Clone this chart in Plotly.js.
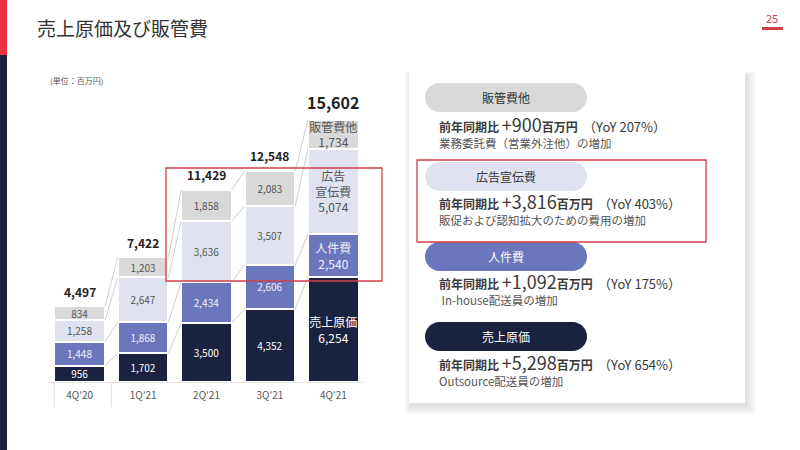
<!DOCTYPE html>
<html><head><meta charset="utf-8">
<script src="https://cdn.plot.ly/plotly-3.0.1.min.js"></script>
<style>html,body{margin:0;padding:0;background:#fff;}#chart{width:800px;height:450px;}</style>
</head><body><div id="chart"></div>
<script>
// ---------- data ----------
const quarters = ["4Q'20", "1Q'21", "2Q'21", "3Q'21", "4Q'21"];
const costOfSales = [956, 1702, 3500, 4352, 6254];
const personnel = [1448, 1868, 2434, 2606, 2540];
const advertising = [1258, 2647, 3636, 3507, 5074];
const otherSGA = [834, 1203, 1858, 2083, 1734];
const totals = [4497, 7422, 11429, 12548, 15602];
const lastBarNames = ["売上原価", "人件費", "広告<br>宣伝費", "販管費他"];
const panelTitles = ["販管費他", "広告宣伝費", "人件費", "売上原価"];
const panelDeltas = ["+900", "+3,816", "+1,092", "+5,298"];
const panelYoY = ["207%", "403%", "175%", "654%"];
const panelNotes = ["業務委託費（営業外注他）の増加", "販促および認知拡大のための費用の増加", " In-house配送員の増加", "Outsource配送員の増加"];

// ---------- styles ----------
const FONT = '"Noto Sans CJK JP", "Noto Sans", sans-serif';
const NAVY = '#1b2240', PURPLE = '#6b77bd', LAV = '#e0e3ef', GRAY = '#d9d9d9', RED = '#cf3f4a';
const segColors = [NAVY, PURPLE, LAV, GRAY];
const segText = ['#ffffff', '#eef0fa', '#555555', '#555555'];
const series = [costOfSales, personnel, advertising, otherSGA];
const idx = quarters.map((_, i) => i);
const fmt = v => v.toLocaleString('en-US');

const traces = series.map((vals, s) => ({
  type: 'bar', x: idx, y: vals, width: 0.8,
  marker: {color: segColors[s], line: {color: '#ffffff', width: 2}},
  text: vals.map((v, i) => i === vals.length - 1 ? lastBarNames[s] + '<br>' + fmt(v) : fmt(v)),
  textposition: 'inside', insidetextanchor: 'middle', textangle: 0, constraintext: 'none',
  textfont: {family: FONT, color: segText[s], size: vals.map((v, i) => i === vals.length - 1 ? 12 : 10)},
  hoverinfo: 'skip', showlegend: false
}));

// connector lines between stack boundaries
const cum = idx.map(i => {
  let c = 0; return series.map(sv => (c += sv[i]));
});
const cx = [], cy = [];
for (let i = 0; i < idx.length - 1; i++) {
  for (let k = 0; k < series.length; k++) {
    cx.push(i + 0.4, i + 0.6, null);
    cy.push(cum[i][k], cum[i + 1][k], null);
  }
}
traces.push({type: 'scatter', mode: 'lines', x: cx, y: cy, line: {color: '#cfcfcf', width: 1}, hoverinfo: 'skip', showlegend: false});

// ---------- helpers ----------
const W = 800, H = 450;
const X = p => p / W, Y = p => 1 - p / H;
function rectPx(x0, y0, x1, y1, fill, line, extra) {
  return Object.assign({type: 'rect', xref: 'paper', yref: 'paper', x0: X(x0), x1: X(x1), y0: Y(y1), y1: Y(y0),
    fillcolor: fill || 'rgba(0,0,0,0)', line: line || {width: 0}}, extra || {});
}
function pillPx(x0, y0, x1, y1, fill) {
  const r = (y1 - y0) / 2, k = 0.5523 * r;
  const P = (x, y) => X(x).toFixed(5) + ',' + Y(y).toFixed(5);
  const d = 'M' + P(x0 + r, y0) + ' L' + P(x1 - r, y0) +
    ' C' + P(x1 - r + k, y0) + ' ' + P(x1, y0 + r - k) + ' ' + P(x1, y0 + r) +
    ' C' + P(x1, y0 + r + k) + ' ' + P(x1 - r + k, y1) + ' ' + P(x1 - r, y1) +
    ' L' + P(x0 + r, y1) +
    ' C' + P(x0 + r - k, y1) + ' ' + P(x0, y0 + r + k) + ' ' + P(x0, y0 + r) +
    ' C' + P(x0, y0 + r - k) + ' ' + P(x0 + r - k, y0) + ' ' + P(x0 + r, y0) + ' Z';
  return {type: 'path', xref: 'paper', yref: 'paper', path: d, fillcolor: fill, line: {width: 0}};
}
function textPx(x, y, text, size, color, xanchor, extra) {
  return Object.assign({xref: 'paper', yref: 'paper', x: X(x), y: Y(y), text: text, showarrow: false,
    xanchor: xanchor || 'left', yanchor: 'middle', font: {family: FONT, size: size, color: color}}, extra || {});
}

// ---------- shapes ----------
const shapes = [];
shapes.push(rectPx(0, 0, 7, 55, '#e63340'));
shapes.push(rectPx(0, 55, 7, 450, NAVY));
shapes.push(rectPx(762, 27, 783, 30, RED));
// card shadow
for (let j = 1; j <= 10; j++) {
  shapes.push(rectPx(409 - j * 0.6 + 2, 72 - j * 0.4 + 3, 745 + j + 1, 403 + j + 2, 'rgba(0,0,0,0.013)'));
}
shapes.push(rectPx(409, 72, 745, 403, '#ffffff'));
// pills
const pillColors = [GRAY, LAV, PURPLE, NAVY];
const pillTop = [83, 162, 242, 322];
pillTop.forEach((t, i) => shapes.push(pillPx(425, t, 587, t + 29, pillColors[i])));
// red highlight boxes
shapes.push(rectPx(417, 160, 706, 242, null, {color: RED, width: 1.3}));
shapes.push(rectPx(166, 168, 382, 281, null, {color: RED, width: 1.3}));
// axis separators
[-0.4, 0.5].forEach(v => shapes.push({type: 'line', xref: 'x', yref: 'paper', x0: v, x1: v, y0: Y(407), y1: Y(383), line: {color: '#e3e3e3', width: 1}}));

// ---------- annotations ----------
const ann = [];
ann.push(textPx(35, 27, '売上原価及び販管費', 19, '#333333'));
ann.push(textPx(48, 80, '(単位：百万円)', 8, '#555555'));
ann.push(textPx(772, 18, '25', 11, RED, 'center'));
// totals
totals.forEach((t, i) => ann.push({x: i, y: t, xref: 'x', yref: 'y', text: '<b>' + fmt(t) + '</b>', showarrow: false,
  yanchor: 'middle', yshift: i === totals.length - 1 ? 18 : 15,
  font: {family: FONT, size: i === totals.length - 1 ? 16 : 12, color: '#222222'}}));
// right panel
const pillTextColors = ['#333333', '#333333', '#ffffff', '#ffffff'];
const lineY = [124, 201, 281, 362];
const noteY = [142.5, 219.5, 299.5, 380.5];
panelTitles.forEach((t, i) => {
  ann.push(textPx(506, pillTop[i] + 14.5, t, 12, pillTextColors[i], 'center'));
  ann.push(textPx(437, lineY[i],
    '<b>前年同期比</b> <span style="font-size:18px">' + panelDeltas[i] + '</span><b>百万円</b>  <span style="font-size:13px">（YoY ' + panelYoY[i] + '）</span>',
    12, '#3a3a3a'));
  ann.push(textPx(437, noteY[i], panelNotes[i], 11.5, '#555555'));
});

const layout = {
  width: W, height: H, margin: {l: 0, r: 0, t: 0, b: 0},
  paper_bgcolor: '#ffffff', plot_bgcolor: 'rgba(0,0,0,0)',
  barmode: 'stack', showlegend: false,
  font: {family: FONT},
  xaxis: {domain: [X(48), X(365)], range: [-0.5, 4.5], tickvals: idx, ticktext: quarters,
    showgrid: false, zeroline: false, showline: true, linecolor: '#e6e6e6', linewidth: 1, ticks: '',
    ticklabelstandoff: 4,
    tickfont: {family: FONT, size: 10, color: '#555555'}, fixedrange: true},
  yaxis: {domain: [68 / H, 1 - 96 / H], range: [0, 17000], visible: false, fixedrange: true},
  shapes: shapes, annotations: ann
};
Plotly.newPlot('chart', traces, layout, {displayModeBar: false, staticPlot: true});
</script>
</body></html>
